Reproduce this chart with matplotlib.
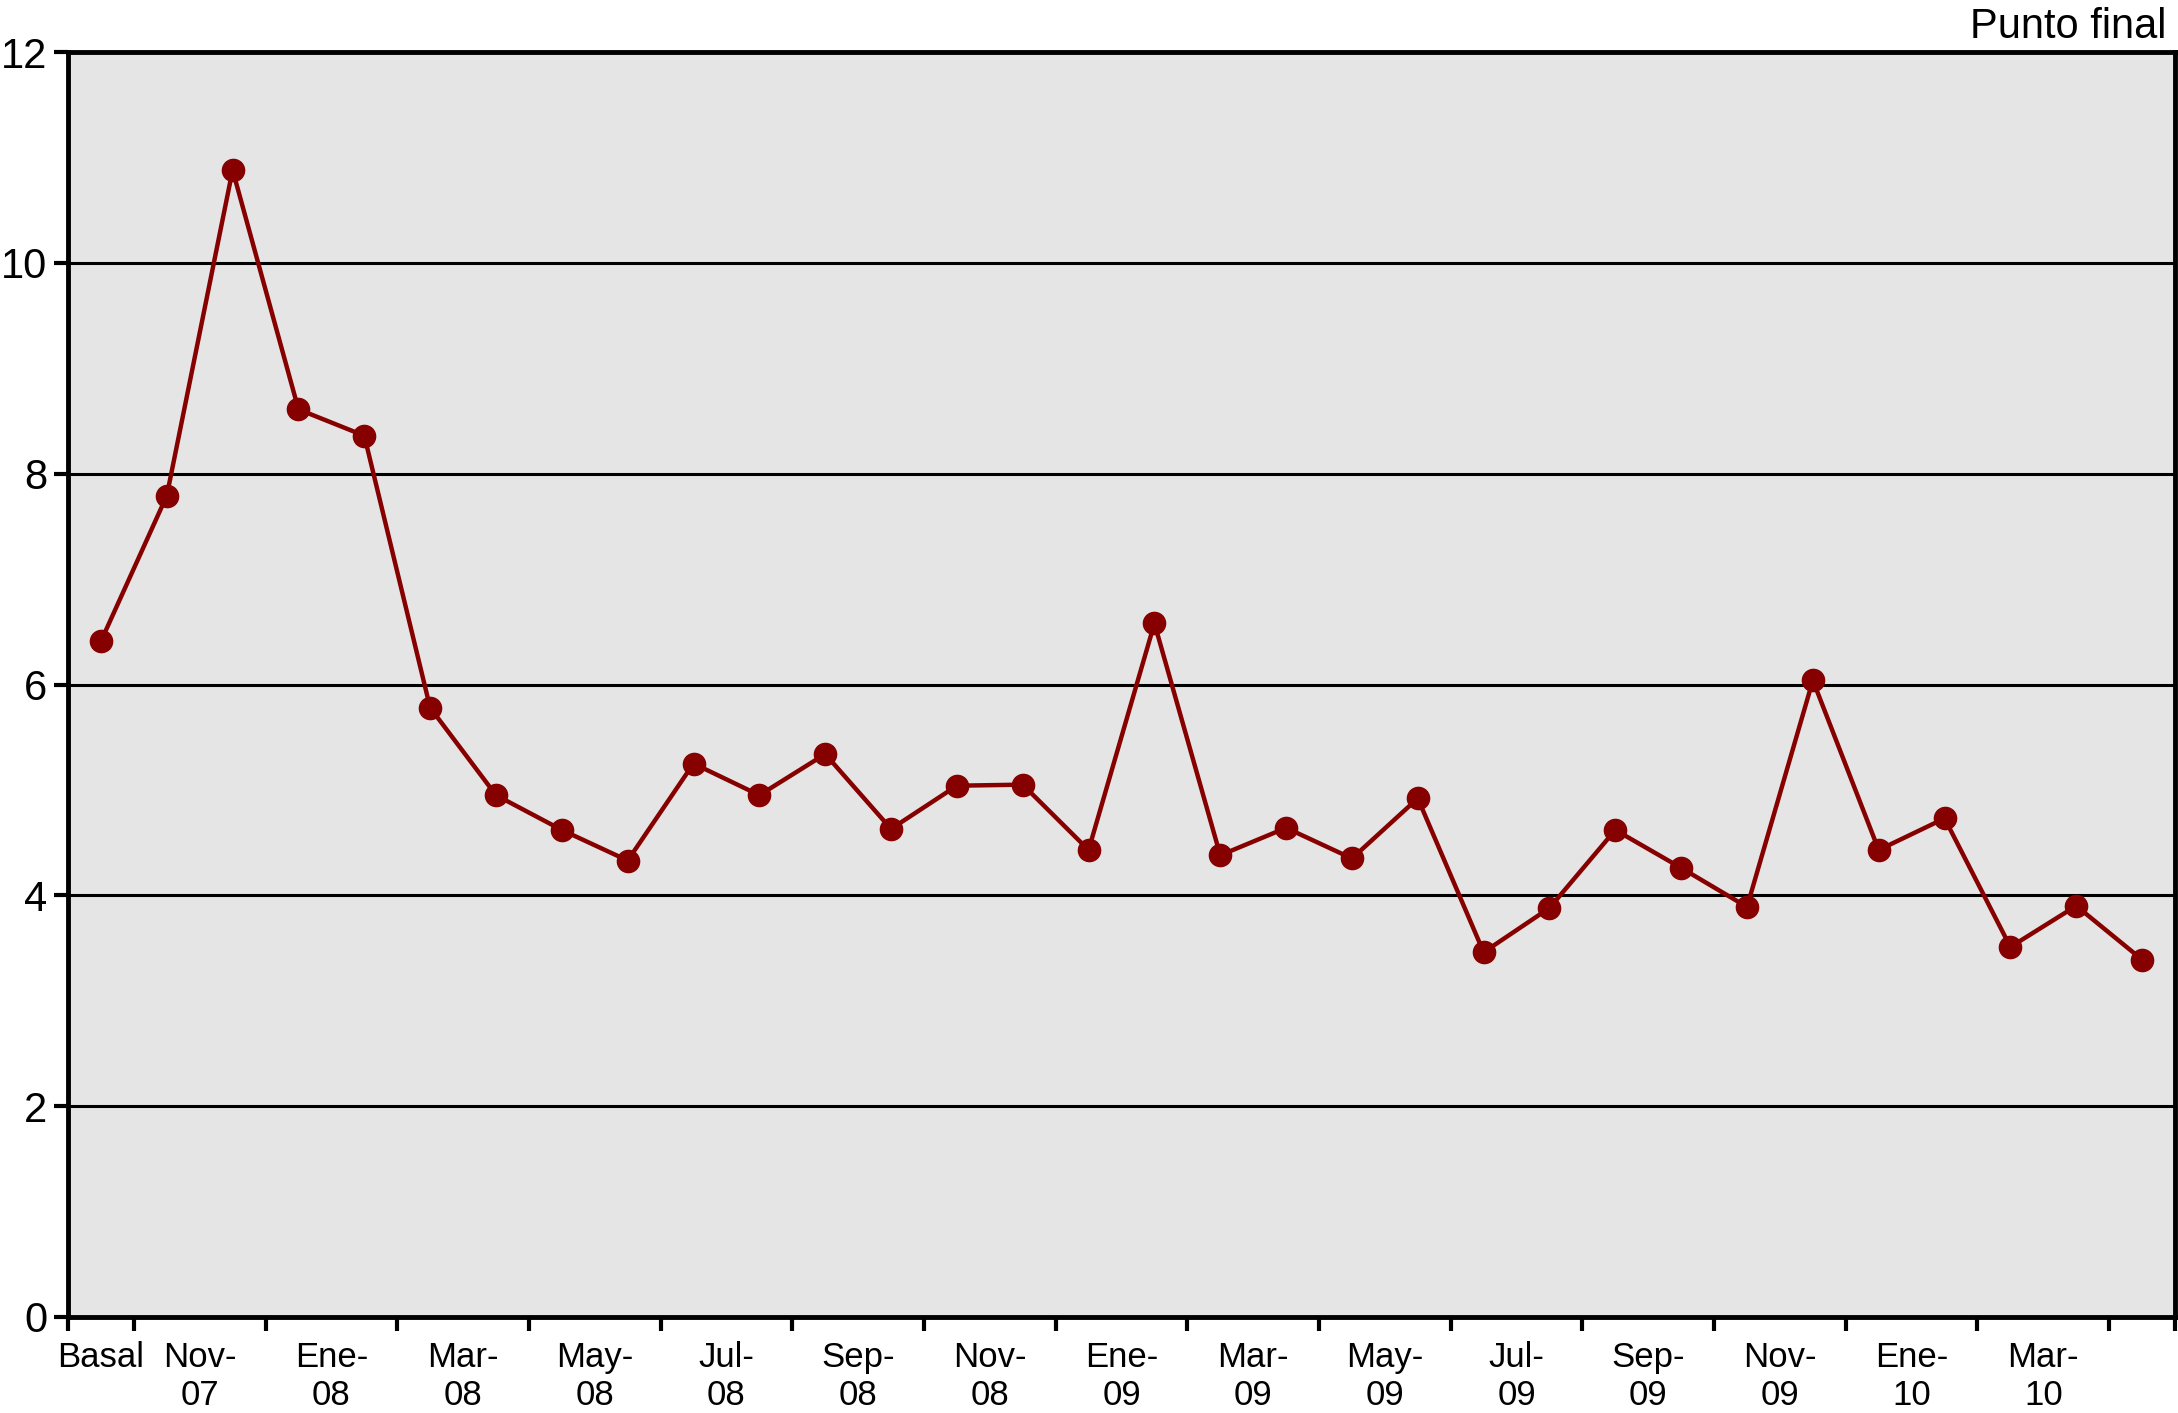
import matplotlib
matplotlib.use('Agg')
import matplotlib.pyplot as plt
import numpy as np

plt.rcParams['font.family'] = ['Liberation Sans', 'DejaVu Sans']

# valores
valores = [6.41, 7.79, 10.88, 8.61, 8.36, 5.78, 4.95, 4.62, 4.33, 5.25,
           4.95, 5.34, 4.63, 5.04, 5.05, 4.43, 6.58, 4.38, 4.64, 4.35,
           4.92, 3.46, 3.88, 4.62, 4.26, 3.89, 6.04, 4.43, 4.73, 3.51,
           3.90, 3.39]
etiquetas = ['Basal', 'Nov-\n07', 'Ene-\n08', 'Mar-\n08', 'May-\n08', 'Jul-\n08',
             'Sep-\n08', 'Nov-\n08', 'Ene-\n09', 'Mar-\n09', 'May-\n09', 'Jul-\n09',
             'Sep-\n09', 'Nov-\n09', 'Ene-\n10', 'Mar-\n10']
titulo = 'Punto final'

rojo = '#870000'
x = np.arange(len(valores))

fig = plt.figure(figsize=(21.78, 14.13), dpi=100)
ax = fig.add_axes([68 / 2178, 1 - 1317 / 1413, (2175 - 68) / 2178, (1317 - 52) / 1413])
ax.set_facecolor('#e5e5e5')

for yv in [2, 4, 6, 8, 10]:
    ax.axhline(yv, color='black', lw=2.2, zorder=1)

ax.plot(x, valores, color=rojo, lw=3.2, marker='o', ms=16, mfc=rojo, mec=rojo, zorder=3)

ax.set_xlim(-0.5, len(valores) - 0.5)
ax.set_ylim(0, 12)
ax.set_yticks(np.arange(0, 13, 2))

pos = [0] + list(np.arange(1.5, 30, 2))
ax.set_xticks(pos)
ax.set_xticklabels(etiquetas, fontsize=25, linespacing=1.2)
ax.set_xticks(np.arange(-0.5, len(valores), 1), minor=True)
ax.tick_params(axis='x', which='major', length=0, pad=17)
ax.tick_params(axis='x', which='minor', length=10, width=3, direction='out')
ax.tick_params(axis='y', labelsize=30, length=10, width=3, direction='out', pad=5)

for s in ax.spines.values():
    s.set_linewidth(3.5)

ax.text(0.996, 1.004, titulo, transform=ax.transAxes, ha='right', va='bottom', fontsize=30)

fig.savefig('out.png', dpi=100)
